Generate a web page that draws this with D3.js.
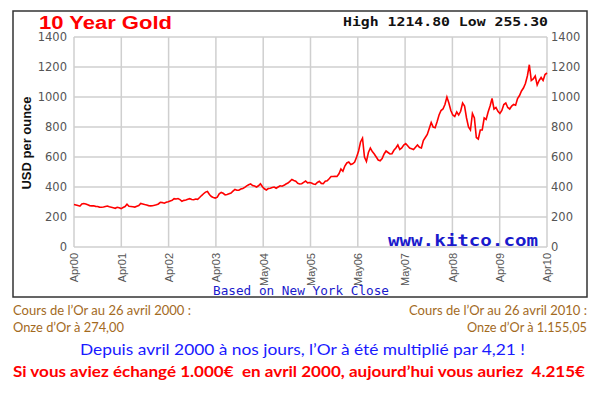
<!DOCTYPE html>
<html>
<head>
<meta charset="utf-8">
<script src="https://d3js.org/d3.v7.min.js"></script>
<style>
  body {margin:0; background:#fff;}
  .grid line {stroke:#cfcfcf; stroke-width:1.5;}
  .yax text {font-family:"DejaVu Sans", Verdana, sans-serif; font-size:11.5px; fill:#555;}
  .xax text {font-family:"Liberation Sans", Arial, sans-serif; font-size:11px; fill:#555;}
  .mono {font-family:"DejaVu Sans Mono", "Liberation Mono", monospace; font-weight:bold;}
  .note {font-family:Lato, "Open Sans", sans-serif; white-space:pre;}
</style>
</head>
<body>
<svg id="chart" width="600" height="394"></svg>
<script>
// semi-monthly gold price (USD/oz), Apr 2000 -> Apr 2010
var prices = [
  283,280, 276,272, 287,290, 286,281, 276,274, 275,271, 270,266, 265,267, 270,273,
  268,265, 262,258, 265,261, 256,263, 270,285, 272,270, 268,266, 271,276, 290,287, 283,280, 276,274, 275,278,
  282,287, 298,296, 292,298, 302,307, 311,322, 320,323, 316,305, 311,313, 318,322, 317,315, 320,318, 330,343,
  355,366, 370,350, 336,330, 326,332, 355,364, 358,347, 350,355, 360,372, 384,378, 378,386, 390,397, 408,415,
  421,410, 406,400, 408,422, 402,388, 380,390, 392,396, 400,392, 400,408, 405,411, 420,426, 438,450, 443,438,
  425,420, 422,431, 440,428, 430,426, 420,418, 430,438, 424,422, 438,441, 455,470, 470,472, 470,488, 520,505,
  540,560, 566,550, 555,566, 600,640, 700,725, 600,570, 630,660, 636,620, 600,580, 575,590, 620,640, 630,620,
  622,645, 660,680, 650,660, 680,690, 675,660, 655,650, 665,680, 665,660, 710,730, 750,790, 830,800, 795,835,
  880,910, 920,950, 1000,960, 910,880, 870,900, 880,905, 960,940, 860,800, 780,890, 860,730, 720,780, 780,860,
  850,900, 940,990, 920,930, 905,890, 910,950, 960,930, 920,940, 950,945, 990,1010, 1040,1060, 1090,1140, 1215,1110,
  1120,1140, 1080,1110, 1130,1110, 1150,1160
];
var xLabels = ["Apr00","Apr01","Apr02","Apr03","May04","May05","May06","May07","Apr08","Apr09","Apr10"];
var yTicks = [0,200,400,600,800,1000,1200,1400];

var svg = d3.select("#chart");
var L = 74, R = 547, T = 37, B = 247;

var x = d3.scaleLinear().domain([0, prices.length-1]).range([L, R]);
var xl = d3.scalePoint().domain(xLabels).range([L, R]);
var y = d3.scaleLinear().domain([0, 1400]).range([B, T]);

// frame
svg.append("rect").attr("x",13).attr("y",11).attr("width",574).attr("height",286)
  .attr("fill","#fff").attr("stroke","#333").attr("stroke-width",1.5);

// grid
var grid = svg.append("g").attr("class","grid");
grid.selectAll(".h").data(yTicks).enter().append("line")
  .attr("x1",L).attr("x2",R).attr("y1",d => y(d)).attr("y2",d => y(d));
grid.selectAll(".v").data(xLabels).enter().append("line")
  .attr("x1",d => xl(d)).attr("x2",d => xl(d)).attr("y1",T).attr("y2",B);

// axes
svg.append("g").attr("class","yax").attr("transform","translate("+L+",0)")
  .call(d3.axisLeft(y).tickValues(yTicks).tickFormat(d3.format("d")).tickSize(0).tickPadding(7))
  .call(g => g.select(".domain").remove());
svg.append("g").attr("class","yax").attr("transform","translate("+R+",0)")
  .call(d3.axisRight(y).tickValues(yTicks).tickFormat(d3.format("d")).tickSize(0).tickPadding(4))
  .call(g => g.select(".domain").remove());
svg.append("g").attr("class","xax").attr("transform","translate(0,"+B+")")
  .call(d3.axisBottom(xl).tickSize(0))
  .call(g => g.select(".domain").remove())
  .selectAll("text")
  .attr("y",0).attr("x",-6).attr("dy","0.35em")
  .attr("transform","rotate(-90)").style("text-anchor","end");

// price line
svg.append("path").datum(prices)
  .attr("fill","none").attr("stroke","#ff0000").attr("stroke-width",1.6)
  .attr("d", d3.line().x((d,i) => x(i)).y(d => y(d)));

// titles
svg.append("text").attr("x",39).attr("y",29).text("10 Year Gold")
  .attr("font-family","Liberation Sans, Arial, sans-serif").attr("font-weight","bold")
  .attr("font-size",18).attr("fill","#ff0000").attr("textLength",133).attr("lengthAdjust","spacingAndGlyphs");
svg.append("text").attr("class","mono").attr("x",343).attr("y",26).text("High 1214.80 Low 255.30")
  .attr("font-size",13).attr("fill","#111").attr("textLength",205).attr("lengthAdjust","spacingAndGlyphs");
svg.append("text").attr("transform","translate(30.5,143) rotate(-90)").attr("text-anchor","middle")
  .text("USD per ounce").attr("font-family","Liberation Sans, Arial, sans-serif").attr("font-weight","bold")
  .attr("font-size",12.5).attr("fill","#111").attr("textLength",93).attr("lengthAdjust","spacingAndGlyphs");
svg.append("text").attr("class","mono").attr("x",388).attr("y",246).text("www.kitco.com")
  .attr("font-size",16).attr("fill","#1a1acc").attr("textLength",150).attr("lengthAdjust","spacingAndGlyphs");
svg.append("text").attr("x",213).attr("y",295).text("Based on New York Close")
  .attr("font-family","DejaVu Sans Mono, monospace").attr("font-size",12)
  .attr("fill","#1a1acc").attr("textLength",176).attr("lengthAdjust","spacingAndGlyphs");

// notes under the chart
var brown = "#a36a1e";
function note(t, xx, yy, anchor, len, size, col, weight) {
  svg.append("text").attr("class","note").attr("x",xx).attr("y",yy).attr("text-anchor",anchor)
    .attr("font-size",size).attr("fill",col).attr("font-weight",weight || "normal")
    .attr("textLength",len).attr("lengthAdjust","spacingAndGlyphs").text(t);
}
note("Cours de l\u2019Or au 26 avril 2000 :", 13, 315, "start", 178, 13, brown);
note("Onze d\u2019Or \u00e0 274,00", 13, 332, "start", 111, 13, brown);
note("Cours de l\u2019Or au 26 avril 2010 :", 587, 315, "end", 178, 13, brown);
note("Onze d\u2019Or \u00e0 1.155,05", 587, 332, "end", 120, 13, brown);
note("Depuis avril 2000 \u00e0 nos jours, l\u2019Or \u00e0 \u00e9t\u00e9 multipli\u00e9 par 4,21 !", 80, 355, "start", 445, 16, "#1a1aff");
note("Si vous aviez \u00e9chang\u00e9 1.000\u20ac  en avril 2000, aujourd\u2019hui vous auriez  4.215\u20ac", 13, 377, "start", 572, 16, "#ff0000", "bold");
</script>
</body>
</html>
